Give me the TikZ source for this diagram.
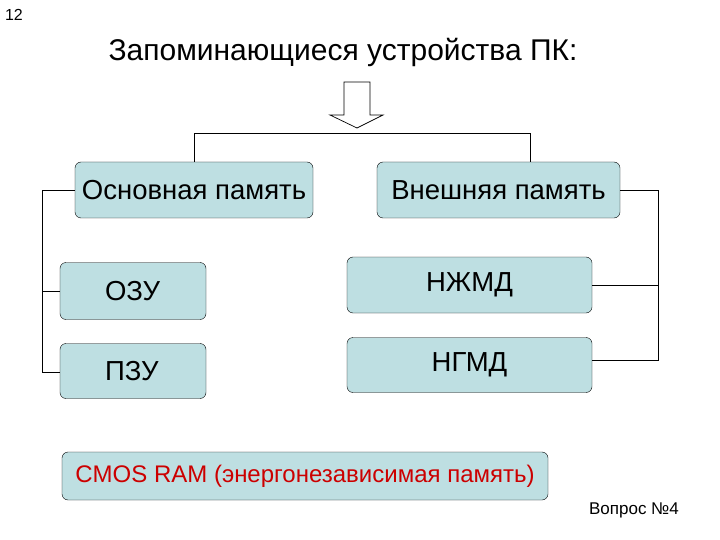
\documentclass[tikz,border=0pt]{standalone}
\usepackage{fontspec}
\setmainfont{Liberation Sans}
\begin{document}
\begin{tikzpicture}[x=1pt,y=-1pt,
  box/.style={draw=black,rounded corners=6pt,inner sep=0pt,font=\fontsize{27.5}{30}\selectfont},
  ln/.style={draw=black,line width=0.7pt}]
\definecolor{bx}{RGB}{190,223,226}
\tikzset{box/.append style={fill=bx}}
\useasboundingbox (0,0) rectangle (720,540);
\node[font=\fontsize{16}{18}\selectfont] (num) at (14,15) {12};
\node[font=\fontsize{30}{34}\selectfont,anchor=west] (title) at (105,52) {Запоминающиеся устройства ПК:};
\draw[ln,fill=white] (344,82) -- (370,82) -- (370,115) -- (383,115) -- (357,128) -- (330,115) -- (344,115) -- cycle;
\node[box,minimum width=238,minimum height=56] (osn) at (194,190) {Основная память};
\node[box,minimum width=243,minimum height=56] (vne) at (498.5,190) {Внешняя память};
\node[box,minimum width=146,minimum height=57,text width=120,align=left] (ozu) at (133,291) {\hspace*{32pt}ОЗУ};
\node[box,minimum width=146,minimum height=55,text width=120,align=left] (pzu) at (133,371) {\hspace*{32pt}ПЗУ};
\node[box,minimum width=245,minimum height=56] (nzh) at (469.5,285) {\raisebox{4pt}{НЖМД}};
\node[box,minimum width=245,minimum height=55] (ngm) at (469.5,365) {\raisebox{4pt}{НГМД}};
\node[box,minimum width=486,minimum height=48,text=red!80!black,font=\fontsize{24}{28}\selectfont] (cmos) at (305,476) {CMOS RAM (энергонезависимая память)};
\node[font=\fontsize{17}{20}\selectfont] (q) at (634,510) {Вопрос №4};
\coordinate (a) at (194,133); \coordinate (b) at (530,133);
\draw[ln] (osn.north -| a) -- (a) -- (b) -- (vne.north -| b);
\coordinate (l1) at (42,190); \coordinate (l2) at (42,372);
\draw[ln] (osn.west) -- (l1) -- (l2) -- (pzu.west |- l2);
\draw[ln] (42,291) -- (ozu.west);
\coordinate (r1) at (658,190); \coordinate (r2) at (658,360);
\draw[ln] (vne.east) -- (r1) -- (r2) -- (ngm.east |- r2);
\draw[ln] (658,285) -- (nzh.east);
\end{tikzpicture}
\end{document}
